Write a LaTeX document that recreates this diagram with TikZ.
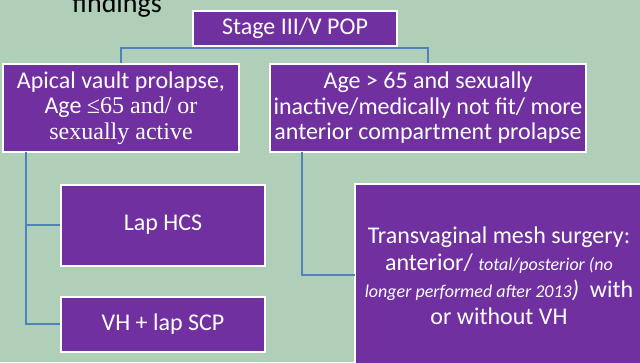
\documentclass[tikz,border=0pt]{standalone}
\usepackage{fontspec}
\setmainfont{Carlito}
\newfontfamily\tnr{Liberation Serif}
\definecolor{bgc}{HTML}{AFCFB9}
\definecolor{pur}{HTML}{7030A0}
\definecolor{lnc}{HTML}{4F81BD}
\begin{document}
\begin{tikzpicture}[x=1pt,y=-1pt,
  pbox/.style={draw=white,line width=2pt,fill=pur,text=white,font=\fontsize{24}{25.5}\selectfont,align=center,inner sep=0pt},
  conn/.style={draw=lnc,line width=2pt}]
\fill[bgc] (0,0) rectangle (640,362);
\useasboundingbox (0,0) rectangle (640,362);
\node[anchor=base,font=\fontsize{28}{30}\selectfont,text=black] (title) at (117,12) {findings};
\node[pbox,minimum width=204pt,minimum height=35pt] (stage) at (295,28) {Stage III/V POP};
\node[pbox,minimum width=236pt,minimum height=88pt] (left) at (121,108) {Apical vault prolapse,\\ Age {\tnr ≤65 and/ or}\\ {\tnr sexually active}};
\node[pbox,minimum width=316pt,minimum height=88pt] (right) at (428,108) {Age > 65 and sexually\\ inactive/medically not fit/ more\\ anterior compartment prolapse};
\node[pbox,minimum width=204pt,minimum height=81pt] (hcs) at (163,225) {Lap HCS};
\node[pbox,minimum width=204pt,minimum height=55pt] (scp) at (163,324) {VH + lap SCP};
\path[draw=white,line width=2pt,fill=pur] (355,184) -- (642,184) -- (642,364) -- (355,364) -- cycle;
\node[text=white,align=center,font=\fontsize{24}{27}\selectfont,inner sep=0pt] (tvm) at (499,276) {Transvaginal mesh surgery:\\ anterior/ {\fontsize{18}{27}\selectfont\itshape total/posterior (no}\\ {\fontsize{18}{27}\selectfont\itshape longer performed after 2013}{\itshape )}\ \ with\\ or without VH};
\coordinate (tvmw) at (355,275);
\coordinate (j) at (295,48);
\draw[conn] (stage.south) -- (j);
\draw[conn] (j) -| (left.north);
\draw[conn] (j) -| (right.north);
\coordinate (lv) at (26,152);
\draw[conn] (lv) |- (hcs.west);
\draw[conn] (lv) |- (scp.west);
\coordinate (rv) at (302,152);
\draw[conn] (rv) |- (tvmw);
\end{tikzpicture}
\end{document}
